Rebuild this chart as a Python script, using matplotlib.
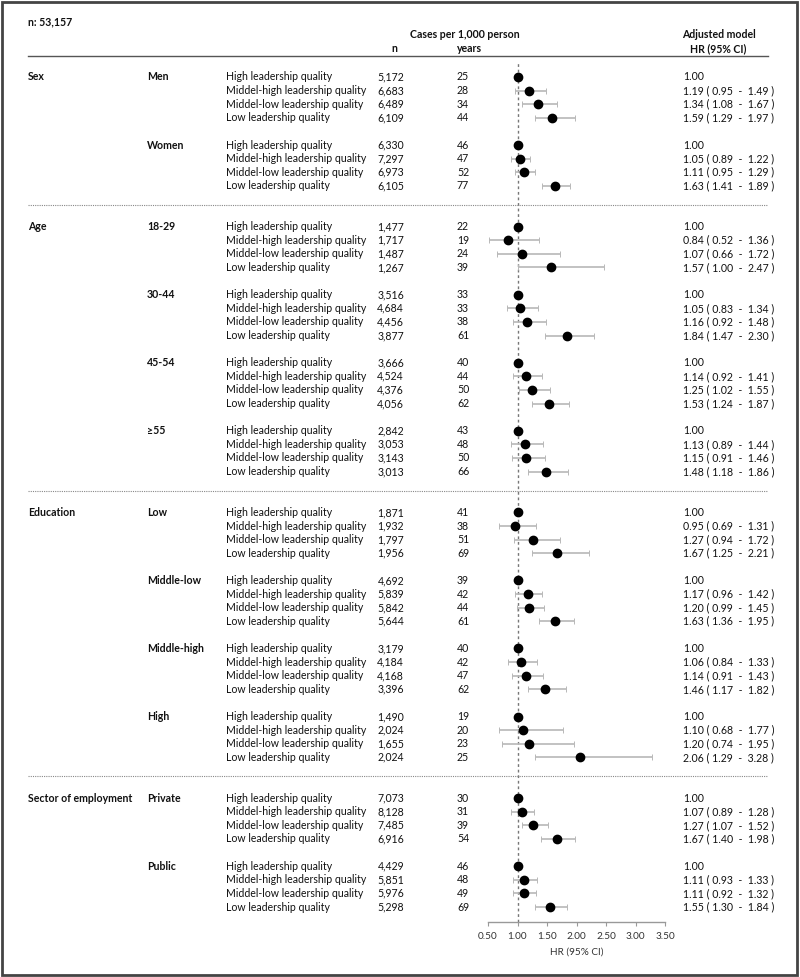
import matplotlib
matplotlib.use("Agg")
import matplotlib.pyplot as plt
from matplotlib.patches import Rectangle
import matplotlib.transforms as mtransforms

plt.rcParams['font.family'] = ['Lato', 'DejaVu Sans']

W, H = 800, 977

sections = ["Sex", "Age", "Education", "Sector of employment"]
subgroups = [["Men", "Women"],
             ["18-29", "30-44", "45-54", "≥55"],
             ["Low", "Middle-low", "Middle-high", "High"],
             ["Private", "Public"]]
levels = ["High leadership quality", "Middel-high leadership quality",
          "Middel-low leadership quality", "Low leadership quality"]

n_vals = [
    [5172, 6683, 6489, 6109], [6330, 7297, 6973, 6105],
    [1477, 1717, 1487, 1267], [3516, 4684, 4456, 3877],
    [3666, 4524, 4376, 4056], [2842, 3053, 3143, 3013],
    [1871, 1932, 1797, 1956], [4692, 5839, 5842, 5644],
    [3179, 4184, 4168, 3396], [1490, 2024, 1655, 2024],
    [7073, 8128, 7485, 6916], [4429, 5851, 5976, 5298],
]
cases = [
    [25, 28, 34, 44], [46, 47, 52, 77],
    [22, 19, 24, 39], [33, 33, 38, 61],
    [40, 44, 50, 62], [43, 48, 50, 66],
    [41, 38, 51, 69], [39, 42, 44, 61],
    [40, 42, 47, 62], [19, 20, 23, 25],
    [30, 31, 39, 54], [46, 48, 49, 69],
]
hr = [
    [1.00, 1.19, 1.34, 1.59], [1.00, 1.05, 1.11, 1.63],
    [1.00, 0.84, 1.07, 1.57], [1.00, 1.05, 1.16, 1.84],
    [1.00, 1.14, 1.25, 1.53], [1.00, 1.13, 1.15, 1.48],
    [1.00, 0.95, 1.27, 1.67], [1.00, 1.17, 1.20, 1.63],
    [1.00, 1.06, 1.14, 1.46], [1.00, 1.10, 1.20, 2.06],
    [1.00, 1.07, 1.27, 1.67], [1.00, 1.11, 1.11, 1.55],
]
lo = [
    [None, 0.95, 1.08, 1.29], [None, 0.89, 0.95, 1.41],
    [None, 0.52, 0.66, 1.00], [None, 0.83, 0.92, 1.47],
    [None, 0.92, 1.02, 1.24], [None, 0.89, 0.91, 1.18],
    [None, 0.69, 0.94, 1.25], [None, 0.96, 0.99, 1.36],
    [None, 0.84, 0.91, 1.17], [None, 0.68, 0.74, 1.29],
    [None, 0.89, 1.07, 1.40], [None, 0.93, 0.92, 1.30],
]
hi = [
    [None, 1.49, 1.67, 1.97], [None, 1.22, 1.29, 1.89],
    [None, 1.36, 1.72, 2.47], [None, 1.34, 1.48, 2.30],
    [None, 1.41, 1.55, 1.87], [None, 1.44, 1.46, 1.86],
    [None, 1.31, 1.72, 2.21], [None, 1.42, 1.45, 1.95],
    [None, 1.33, 1.43, 1.82], [None, 1.77, 1.95, 3.28],
    [None, 1.28, 1.52, 1.98], [None, 1.33, 1.32, 1.84],
]
xticks = [0.5, 1.0, 1.5, 2.0, 2.5, 3.0, 3.5]

# ---- layout ----
fig = plt.figure(figsize=(W / 100, H / 100), dpi=100)
row0_px, step_px = 77.0, 13.607
ax_left_px, ax_right_px = 488, 665
ax_top_px, ax_bot_px = 62, 922
ax = fig.add_axes([ax_left_px / W, 1 - ax_bot_px / H,
                   (ax_right_px - ax_left_px) / W, (ax_bot_px - ax_top_px) / H])
ax.set_xlim(0.5, 3.5)
ax.set_ylim((ax_bot_px - row0_px) / step_px, (ax_top_px - row0_px) / step_px)

trans = mtransforms.blended_transform_factory(fig.transFigure, ax.transData)
def fx(px):
    return px / W

fs = 7.6
txt_col = '#111111'

ax.axvline(1.0, color='#777777', lw=1.0, ls=(0, (2, 2)), zorder=1)

r = 0
gi = 0
sep_rows = []
for si, sec in enumerate(sections):
    ax.text(fx(28), r, sec, transform=trans, fontsize=fs, fontweight='bold',
            va='center', ha='left', color=txt_col)
    for sj, sub in enumerate(subgroups[si]):
        ax.text(fx(147), r, sub, transform=trans, fontsize=fs, fontweight='bold',
                va='center', ha='left', color=txt_col)
        for k in range(4):
            y = r + k
            ax.text(fx(226), y, levels[k], transform=trans, fontsize=fs,
                    va='center', ha='left', color=txt_col)
            ax.text(fx(404), y, f"{n_vals[gi][k]:,}", transform=trans, fontsize=fs,
                    va='center', ha='right', color=txt_col)
            ax.text(fx(463), y, str(cases[gi][k]), transform=trans, fontsize=fs,
                    va='center', ha='center', color=txt_col)
            if lo[gi][k] is None:
                s = f"{hr[gi][k]:.2f}"
            else:
                s = f"{hr[gi][k]:.2f} ( {lo[gi][k]:.2f}  -  {hi[gi][k]:.2f} )"
                ax.errorbar(hr[gi][k], y,
                            xerr=[[hr[gi][k] - lo[gi][k]], [hi[gi][k] - hr[gi][k]]],
                            fmt='none', ecolor='#b8b8b8', elinewidth=1.2,
                            capsize=2.0, capthick=0.7, zorder=2)
            ax.plot(hr[gi][k], y, 'o', color='black', ms=6, zorder=3)
            ax.text(fx(683), y, s, transform=trans, fontsize=fs,
                    va='center', ha='left', color=txt_col)
        gi += 1
        r += 4
        if sj < len(subgroups[si]) - 1:
            r += 1
    if si < len(sections) - 1:
        sep_rows.append(r + 0.4)
        r += 2

for sr in sep_rows:
    ax.plot([fx(28), fx(768)], [sr, sr], transform=trans, color='#888888',
            lw=0.8, ls=(0, (1, 1)), clip_on=False)

# axis styling
for sp in ['top', 'right', 'left']:
    ax.spines[sp].set_visible(False)
ax.spines['bottom'].set_color('#999999')
ax.spines['bottom'].set_linewidth(1.0)
ax.set_yticks([])
ax.set_xticks(xticks)
ax.set_xticklabels([f"{t:.2f}" for t in xticks])
ax.tick_params(axis='x', direction='out', length=3, color='#999999',
               labelsize=7.2, labelcolor='#333333', pad=4)
ax.set_xlabel("HR (95% CI)", fontsize=7.2, color='#333333', labelpad=5)
ax.patch.set_alpha(0)

# header
def fy(py):
    return 1 - py / H
fig.text(fx(28), fy(22), "n: 53,157", fontsize=fs, fontweight='bold',
         va='center', ha='left', color=txt_col)
fig.text(fx(465), fy(35), "Cases per 1,000 person", fontsize=fs, fontweight='bold',
         va='center', ha='center', color=txt_col)
fig.text(fx(470), fy(49), "years", fontsize=fs, fontweight='bold',
         va='center', ha='center', color=txt_col)
fig.text(fx(394), fy(49), "n", fontsize=fs, fontweight='bold',
         va='center', ha='center', color=txt_col)
fig.text(fx(719), fy(35), "Adjusted model", fontsize=fs, fontweight='bold',
         va='center', ha='center', color=txt_col)
fig.text(fx(718), fy(49), "HR (95% CI)", fontsize=fs, fontweight='bold',
         va='center', ha='center', color=txt_col)
fig.add_artist(plt.Line2D([fx(28), fx(768)], [fy(56), fy(56)],
                          transform=fig.transFigure, color='#555555', lw=1.0))

# border
fig.add_artist(Rectangle((0.002, 0.002), 0.994, 0.996, transform=fig.transFigure,
                         fill=False, edgecolor='#444444', lw=2))

fig.savefig("out.png", dpi=100)
